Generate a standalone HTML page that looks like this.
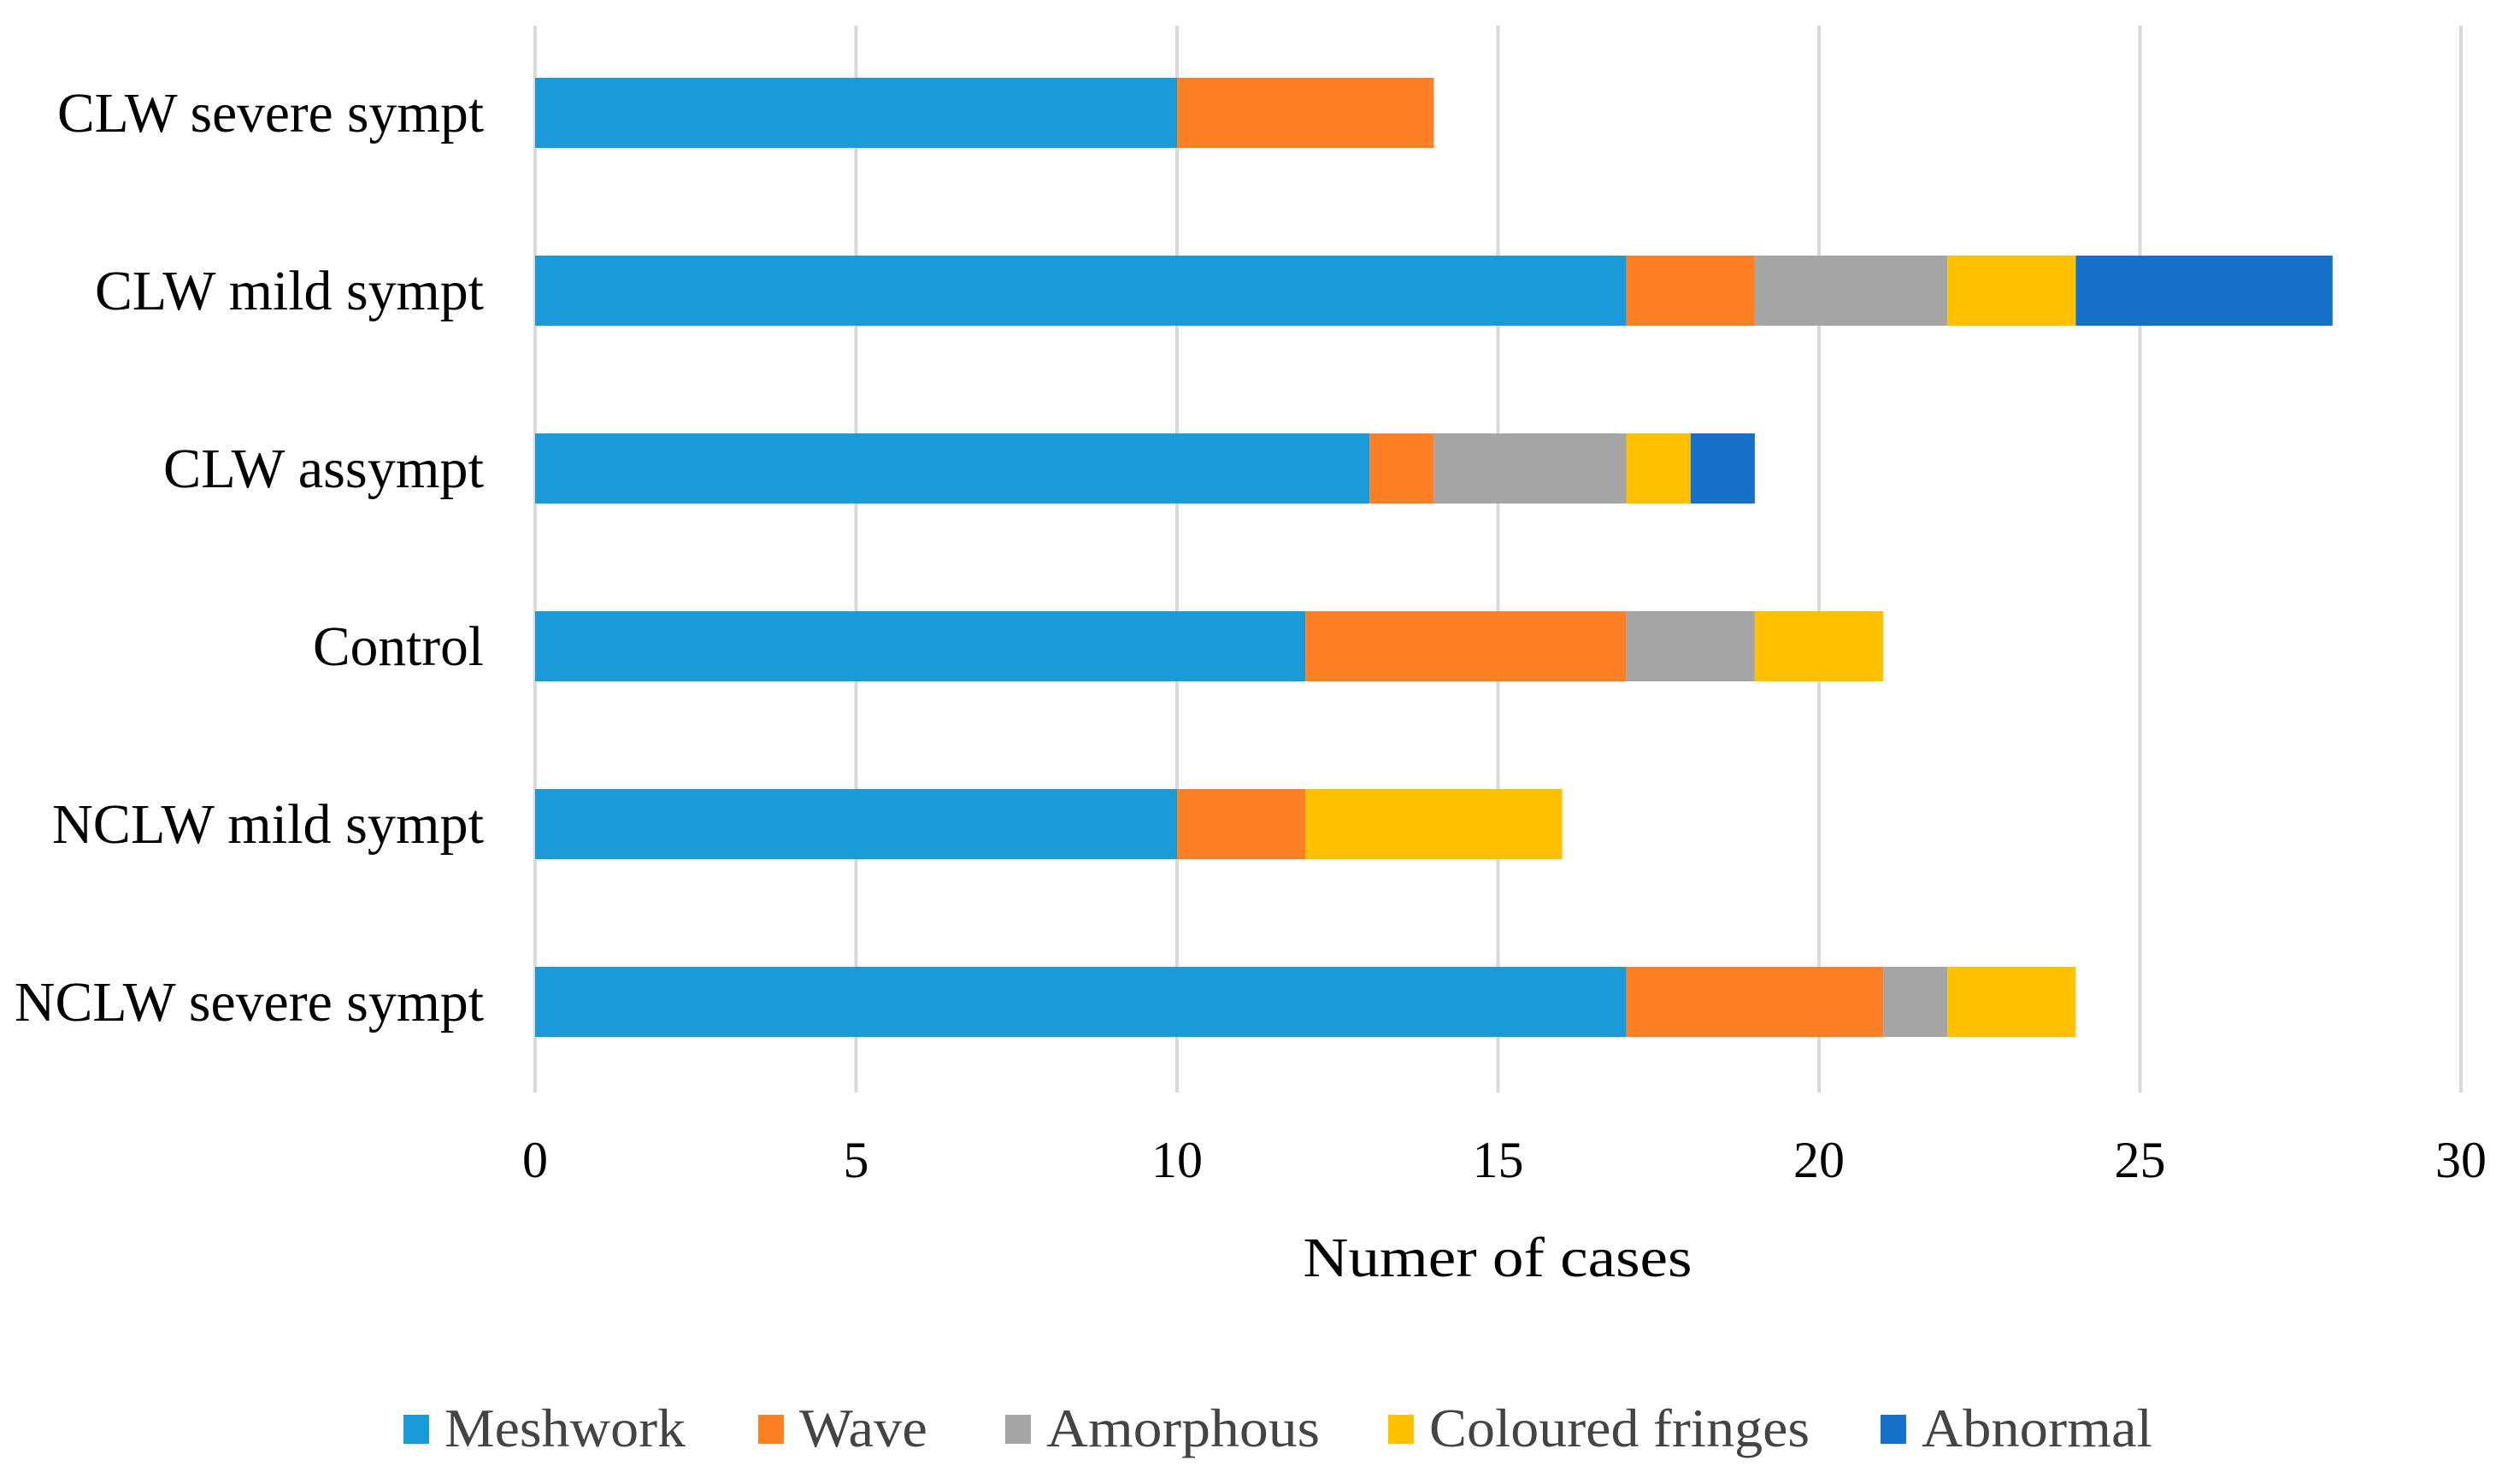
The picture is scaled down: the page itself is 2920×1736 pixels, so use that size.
<!DOCTYPE html>
<html><head><meta charset="utf-8"><style>
html,body{margin:0;padding:0;background:#fff;}
svg{display:block;font-family:"Liberation Serif",serif;}
</style></head><body>
<svg id="chart" width="2920" height="1736" viewBox="0 0 2920 1736" xmlns="http://www.w3.org/2000/svg">
<rect width="2920" height="1736" fill="#fff"/>
<g id="grid"></g><g id="bars"></g><g id="ylabels"></g><g id="xticks"></g>
<text x="1752" y="1493" font-size="66" text-anchor="middle" fill="#000" textLength="455" lengthAdjust="spacingAndGlyphs">Numer of cases</text>
<g id="legend"></g>
</svg>
<script>
const categories = ["CLW severe sympt","CLW mild sympt","CLW assympt","Control","NCLW mild sympt","NCLW severe sympt"];
const seriesNames = ["Meshwork","Wave","Amorphous","Coloured fringes","Abnormal"];
const meshwork = [10,17,13,12,10,17];
const wave = [4,2,1,5,2,4];
const amorphous = [0,3,3,2,0,1];
const fringes = [0,2,1,2,4,2];
const abnormal = [0,4,1,0,0,0];
const xTicks = [0,5,10,15,20,25,30];

const series = [meshwork,wave,amorphous,fringes,abnormal];
const colors = ["#1A9AD6","#FF7F24","#A5A5A5","#FFC000","#1470C8"];
const NS = "http://www.w3.org/2000/svg";
const x0 = 626, unit = 75.1, top0 = 132, step = 208, bh = 82;
function xs(v){return x0 + v*unit;}
function yc(i){return top0 + i*step;}
function mk(tag, attrs, parent){const e=document.createElementNS(NS,tag);for(const k in attrs)e.setAttribute(k,attrs[k]);parent.appendChild(e);return e;}
const grid=document.getElementById('grid'), bars=document.getElementById('bars'), yl=document.getElementById('ylabels'), xt=document.getElementById('xticks'), lg=document.getElementById('legend');
xTicks.forEach(t=>{
  const l=mk('line',{x1:xs(t),x2:xs(t),y1:30,y2:1278,stroke:'#d9d9d9','stroke-width':4},grid);
  
  
  const tx=mk('text',{x:xs(t),y:1377,'font-size':60,'text-anchor':'middle',fill:'#000'},xt);
  tx.textContent=t;
  
  
});
const labelW=[499,455,375,200,505,549];
categories.forEach((c,i)=>{
  let acc=0;
  series.forEach((s,j)=>{
    const v=s[i];
    if(v>0){
      const r=mk('rect',{x:xs(acc),y:yc(i)-bh/2,width:v*unit,height:bh,fill:colors[j]},bars);
      
      
    }
    acc+=v;
  });
  const t=mk('text',{x:566,y:yc(i)+22,'font-size':66,'text-anchor':'end',fill:'#000',textLength:labelW[i],lengthAdjust:'spacingAndGlyphs'},yl);
  t.textContent=c;
  
  
});
const lx=[472,887,1176,1624,2200];
const tw=[282,150,320,445,270];
seriesNames.forEach((n,j)=>{
  const r=mk('rect',{x:lx[j],y:1655,width:30,height:34,fill:colors[j]},lg);
  
  
  const t=mk('text',{x:lx[j]+48,y:1692,'font-size':64,fill:'#444',textLength:tw[j],lengthAdjust:'spacingAndGlyphs'},lg);
  t.textContent=n;
  
  
});
</script>
</body></html>
